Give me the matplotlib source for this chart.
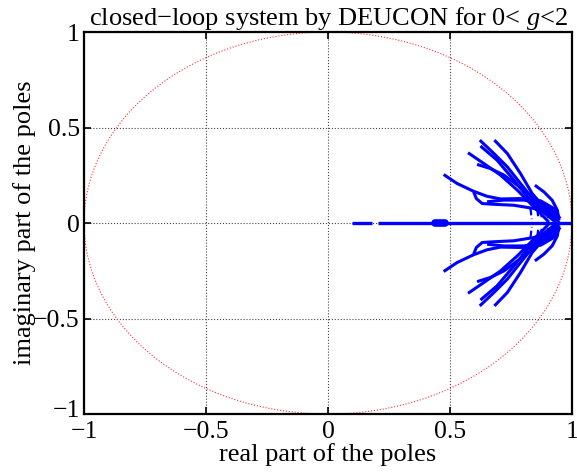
import numpy as np
import matplotlib
matplotlib.use("Agg")
import matplotlib.pyplot as plt
from matplotlib.transforms import ScaledTranslation

plt.rcParams['font.family'] = ['Liberation Serif', 'DejaVu Serif']
plt.rcParams['mathtext.fontset'] = 'custom'
plt.rcParams['mathtext.it'] = 'Liberation Serif:italic'
plt.rcParams['mathtext.rm'] = 'Liberation Serif'

# upper-half root loci (lower half is the mirror image)
c1_x = [0.682, 0.735, 0.789, 0.837, 0.885, 0.927, 0.947]
c1_y = [0.434, 0.364, 0.259, 0.154, 0.084, 0.033, 0.004]
c2_x = [0.622, 0.680, 0.735, 0.789, 0.844, 0.899, 0.933]
c2_y = [0.434, 0.364, 0.294, 0.207, 0.119, 0.049, 0.006]
c3_x = [0.625, 0.693, 0.762, 0.817, 0.872, 0.927]
c3_y = [0.403, 0.329, 0.225, 0.137, 0.067, 0.011]
c4_x = [0.574, 0.638, 0.707, 0.776, 0.830, 0.885, 0.905]
c4_y = [0.368, 0.312, 0.251, 0.172, 0.102, 0.032, 0.005]
c5_x = [0.611, 0.666, 0.721, 0.776, 0.830, 0.885, 0.933]
c5_y = [0.307, 0.285, 0.251, 0.198, 0.146, 0.093, 0.028]
c6_x = [0.474, 0.529, 0.597, 0.652, 0.707, 0.789, 0.872, 0.927, 0.951]
c6_y = [0.254, 0.207, 0.166, 0.140, 0.126, 0.128, 0.116, 0.075, 0.023]
c7_x = [0.597, 0.608, 0.632, 0.680, 0.762, 0.844, 0.899, 0.933]
c7_y = [0.163, 0.128, 0.102, 0.098, 0.093, 0.076, 0.049, 0.006]
c8_x = [0.848, 0.885, 0.919, 0.940, 0.947]
c8_y = [0.198, 0.163, 0.119, 0.067, 0.014]
c9_x = [0.652, 0.721, 0.803, 0.885, 0.927, 0.940]
c9_y = [0.111, 0.120, 0.120, 0.102, 0.059, 0.012]
curves = [(c1_x, c1_y), (c2_x, c2_y), (c3_x, c3_y), (c4_x, c4_y), (c5_x, c5_y),
          (c6_x, c6_y), (c7_x, c7_y), (c8_x, c8_y), (c9_x, c9_y)]

# short pieces near the real axis
stub_x = [0.830, 0.858, 0.872, 0.899, 0.913]
stub_top = [0.075, 0.070, 0.065, 0.060, 0.055]
stub_bot = [0.020, 0.020, 0.020, 0.020, 0.020]

# poles on the real axis
real_segs = [(0.098, 0.180), (0.205, 1.0)]
blob_x = (0.440, 0.478)

ticks = [-1, -0.5, 0, 0.5, 1]
tick_labels = ['\u22121', '\u22120.5', '0', '0.5', '1']

blue = '#0000ff'
fig = plt.figure(figsize=(5.77, 4.73), dpi=100)
ax = fig.add_axes([0.1456, 0.1247, 0.8457, 0.8076])

t = np.linspace(0, 2 * np.pi, 400)
ax.plot(np.cos(t), np.sin(t), color='#ff3030', ls=':', lw=0.8)

for cx, cy in curves:
    ax.plot(cx, cy, color=blue, lw=2.2, solid_capstyle='butt')
    ax.plot(cx, [-v for v in cy], color=blue, lw=2.2, solid_capstyle='butt')
for x, a, b in zip(stub_x, stub_top, stub_bot):
    ax.plot([x, x + 0.005], [a, b], color=blue, lw=1.6, ls=(0, (3, 1.5)))
    ax.plot([x, x + 0.005], [-a, -b], color=blue, lw=1.6, ls=(0, (3, 1.5)))

for a, b in real_segs:
    ax.plot([a, b], [0, 0], color=blue, lw=2.4, solid_capstyle='butt')
ax.plot(blob_x, [0, 0], color=blue, lw=5.5, solid_capstyle='round')

ax.set_xlim(-1, 1)
ax.set_ylim(-1, 1)
ax.set_xticks(ticks)
ax.set_yticks(ticks)
ax.set_xticklabels(tick_labels)
ax.set_yticklabels(tick_labels)
ax.grid(True, ls=':', color='#444444', lw=0.8)
ax.tick_params(direction='in', top=True, right=True, length=5, width=1.2,
               labelsize=18.5)
ax.tick_params(axis='x', pad=5)
ax.tick_params(axis='y', pad=3)
for s in ax.spines.values():
    s.set_linewidth(1.6)

# lift the bottom y label a little so it clears the x "-1"
lab = ax.yaxis.get_major_ticks()[0].label1
lab.set_transform(lab.get_transform() + ScaledTranslation(0, 4 / 72, fig.dpi_scale_trans))

ax.set_xlabel('real part of the poles', fontsize=19, labelpad=0)
ax.set_ylabel('imaginary part of the poles', fontsize=19, labelpad=-2)
ax.set_title('closed\u2212loop system by DEUCON for 0< $g$<2', fontsize=19, pad=5)

fig.savefig('out.png', dpi=100)
